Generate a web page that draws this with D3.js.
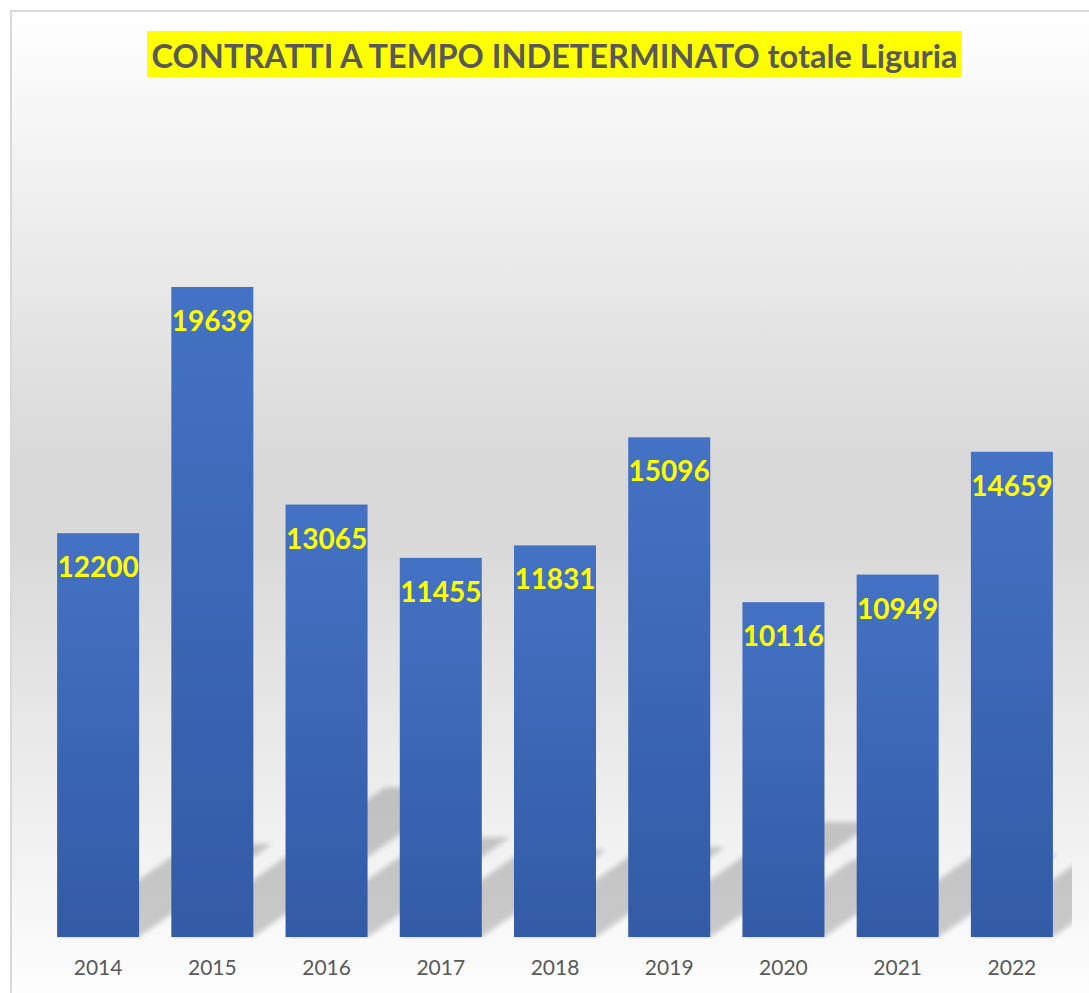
<!DOCTYPE html>
<html>
<head>
<meta charset="utf-8">
<script src="https://cdn.jsdelivr.net/npm/d3@7"></script>
<style>
  html, body { margin: 0; padding: 0; background: #ffffff; }
  svg { display: block; }
</style>
</head>
<body>
<div id="chart"></div>
<script>
// data
const years = ["2014", "2015", "2016", "2017", "2018", "2019", "2020", "2021", "2022"];
const contratti = [12200, 19639, 13065, 11455, 11831, 15096, 10116, 10949, 14659];
const titolo = "CONTRATTI A TEMPO INDETERMINATO totale Liguria";

const W = 1089, H = 993;
const baseY = 937, topY = 109.5;
const left = 41, right = 1069;

const svg = d3.select("#chart").append("svg")
    .attr("width", W)
    .attr("height", H)
    .style("font-family", "Lato, 'Open Sans', sans-serif");

const defs = svg.append("defs");

// chart area background: white -> grey -> white
const bg = defs.append("linearGradient")
    .attr("id", "bgGrad")
    .attr("gradientUnits", "userSpaceOnUse")
    .attr("x1", 0).attr("y1", 11).attr("x2", 0).attr("y2", 1011);
bg.append("stop").attr("offset", 0).attr("stop-color", "#ffffff");
bg.append("stop").attr("offset", 0.45).attr("stop-color", "#d9d9d9");
bg.append("stop").attr("offset", 0.53).attr("stop-color", "#d9d9d9");
bg.append("stop").attr("offset", 1).attr("stop-color", "#ffffff");

// bar fill
const barGrad = defs.append("linearGradient")
    .attr("id", "barGrad")
    .attr("x1", 0).attr("y1", 0).attr("x2", 0).attr("y2", 1);
barGrad.append("stop").attr("offset", 0).attr("stop-color", "#4472c4");
barGrad.append("stop").attr("offset", 1).attr("stop-color", "#335ba6");

defs.append("filter")
    .attr("id", "blur")
    .attr("x", "-20%").attr("y", "-20%").attr("width", "140%").attr("height", "140%")
    .append("feGaussianBlur").attr("stdDeviation", 2.6);

defs.append("clipPath").attr("id", "plotClip")
  .append("rect")
    .attr("x", left).attr("y", 90)
    .attr("width", 1072 - left).attr("height", baseY + 2 - 90);

svg.append("rect")
    .attr("x", 11).attr("y", 11)
    .attr("width", W + 20).attr("height", H + 20)
    .attr("fill", "url(#bgGrad)")
    .attr("stroke", "#d9d9d9")
    .attr("stroke-width", 2);

// title
const tg = svg.append("g");
const tRect = tg.append("rect").attr("fill", "#ffff00");
const tText = tg.append("text")
    .attr("x", 554.5)
    .attr("y", 68)
    .attr("text-anchor", "middle")
    .attr("fill", "#595959")
    .style("font-weight", "bold")
    .style("font-size", "32px")
    .text(titolo);
// fit to the width of the yellow band
const tw = tText.node().getComputedTextLength();
tText.style("font-size", (32 * 806 / tw) + "px");
tRect.attr("x", 147).attr("y", 31).attr("width", 815).attr("height", 46);

// scales
const x = d3.scaleBand()
    .domain(years)
    .range([left, right])
    .paddingInner(0.282)
    .paddingOuter(0.141);

const y = d3.scaleLinear()
    .domain([0, 25000])
    .range([baseY, topY]);

// perspective shadows (up-right), drawn as one layer so overlaps don't darken
const slope = 0.7, k = 0.23;
const shadowG = svg.append("g")
    .attr("clip-path", "url(#plotClip)")
  .append("g")
    .attr("filter", "url(#blur)")
    .attr("opacity", 0.19);

shadowG.selectAll("path")
    .data(contratti)
    .join("path")
    .attr("fill", "#000")
    .attr("d", (d, i) => {
        const x0 = x(years[i]), x1 = x0 + x.bandwidth();
        const sh = k * (baseY - y(d));
        const dx = sh / slope;
        return `M${x0},${baseY}L${x1},${baseY}L${x1 + dx},${baseY - sh}L${x0 + dx},${baseY - sh}Z`;
    });

// bars
svg.append("g")
  .selectAll("rect")
  .data(contratti)
  .join("rect")
    .attr("x", (d, i) => x(years[i]))
    .attr("y", d => y(d))
    .attr("width", x.bandwidth())
    .attr("height", d => baseY - y(d))
    .attr("fill", "url(#barGrad)");

// value labels inside end
svg.append("g")
  .selectAll("text")
  .data(contratti)
  .join("text")
    .attr("x", (d, i) => x(years[i]) + x.bandwidth() / 2)
    .attr("y", d => y(d) + 44)
    .attr("text-anchor", "middle")
    .attr("fill", "#ffff00")
    .style("font-weight", "bold")
    .style("font-size", "28px")
    .text(d => d);

// category axis
const ax = svg.append("g")
    .attr("transform", `translate(0,${baseY})`)
    .call(d3.axisBottom(x).tickSize(0).tickPadding(0));
ax.select(".domain").remove();
ax.selectAll("text")
    .attr("y", 38)
    .attr("dy", 0)
    .attr("fill", "#595959")
    .style("font-family", "Lato, 'Open Sans', sans-serif")
    .style("font-size", "21px");
</script>
</body>
</html>
